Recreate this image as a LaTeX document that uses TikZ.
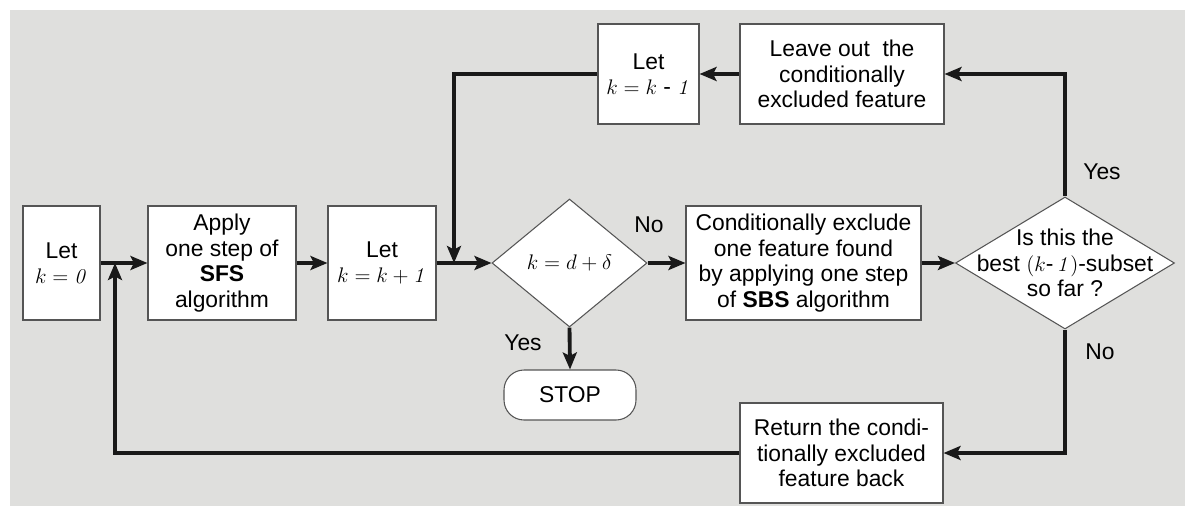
\documentclass[tikz,border=0pt]{standalone}
\usepackage{amsmath}
\usepackage[no-math]{fontspec}
\setmainfont{Liberation Sans}
\usepackage{tikz}
\usetikzlibrary{arrows.meta, shapes, calc, positioning}
\definecolor{fondo}{RGB}{223,223,221}
\definecolor{borde}{RGB}{85,85,85}
\tikzset{
	every node/.style={
		font=\fontsize{13}{14.6}\selectfont
	},
	action/.style={
		shape=rectangle,
		minimum height=2.28cm,
		align=center,
		inner sep=0pt,
		fill=white,
		draw=borde,
		line width=0.6pt
	},
	test/.style={
		shape=diamond,
		inner sep=0pt,
		fill=white,
		draw=borde,
		line width=0.6pt
	},
	terminal/.style={
		shape=rectangle,
		minimum width=2.64cm,
		minimum height=1cm,
		rounded corners=0.4cm,
		fill=white,
		draw=borde,
		line width=0.6pt
	},
	flow/.style={
		-{Stealth[length=3.4mm,width=2.8mm,inset=0.7mm]},
		line width=2.2pt,
		black!90
	}
}

\begin{document}
\begin{tikzpicture}

\useasboundingbox (0,0) rectangle (23.7,10.12);
\fill [fondo] (0.2,0) rectangle (23.7,9.92);

% main row
\node [action, minimum width=1.54cm] (init) at (1.23,4.86) {Let\\$k = \mathit{0}$};
\node [action, minimum width=2.96cm] (sfs) at (4.44,4.86) {Apply\\one step of\\\textbf{SFS}\\algorithm};
\node [action, minimum width=2.16cm] (inc) at (7.64,4.86) {Let\\$k = k + \mathit{1}$};
\node [test, minimum width=3.1cm, minimum height=2.56cm] (stop test) at (11.39,4.86) {$k = d + \delta$};
\node [action, minimum width=4.7cm] (sbs) at (16.07,4.86) {Conditionally exclude\\one feature found\\by applying one step\\of \textbf{SBS} algorithm};
\node [test, minimum width=4.38cm, minimum height=2.64cm,
	label={[align=center]center:Is this the\\best $(k\text{-}\,\mathit{1})$-subset\\so far ?}] (best) at (21.3,4.86) {};

% upper row
\node [action, minimum width=2.02cm, minimum height=2cm] (dec) at (12.97,8.64) {Let\\$k = k\ \text{-}\ \mathit{1}$};
\node [action, minimum width=4.08cm, minimum height=2cm] (leave) at (16.84,8.64) {Leave out \ the\\conditionally\\excluded feature};

% lower row
\node [terminal] (stop) at (11.4,2.22) {STOP};
\node [action, minimum width=4.06cm, minimum height=2cm] (back) at (16.83,1.06) {Return the condi-\\tionally excluded\\feature back};

\coordinate (loop in) at (2.3,4.86);
\coordinate (dec in) at (9.08,4.86);

\draw [flow] (init) -- (sfs);
\draw [flow] (sfs) -- (inc);
\draw [flow] (inc) -- (stop test);
\draw [flow] (stop test) -- (sbs);
\draw [flow] (sbs) -- (best);
\draw [flow] (stop test.south) -- (stop.north);
\draw [flow] (best.north) |- (leave.east);
\draw [flow] (leave) -- (dec);
\draw [flow] (dec.west) -| (dec in);
\draw [flow] (best.south) |- (back.east);
\draw [flow] (back.west) -| (loop in);

% branch labels
\node (no a) at (12.98,5.62) {No};
\node (yes a) at (10.46,3.26) {Yes};
\node (yes b) at (22.04,6.68) {Yes};
\node (no b) at (22.0,3.08) {No};

\end{tikzpicture}
\end{document}
